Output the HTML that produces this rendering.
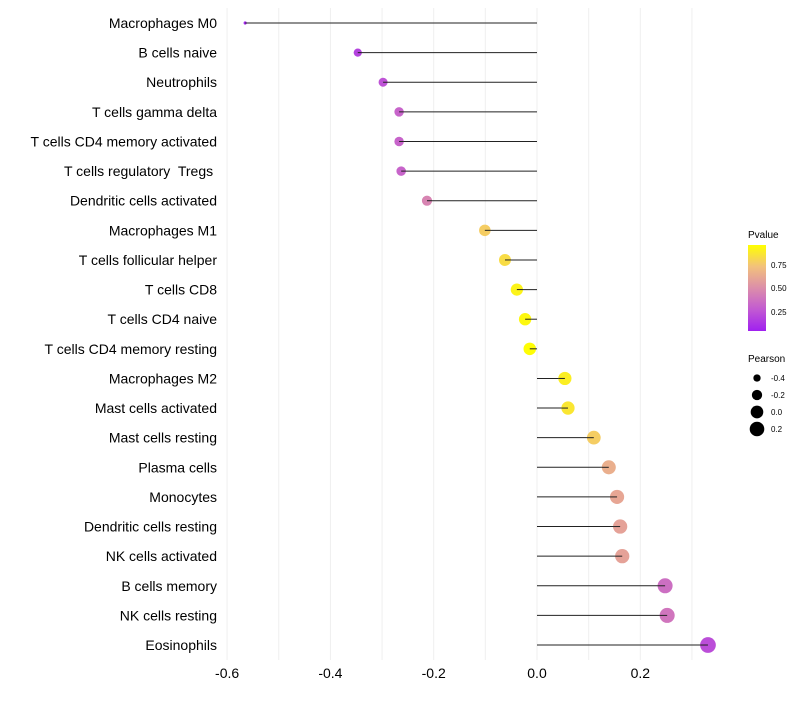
<!DOCTYPE html>
<html><head><meta charset="utf-8"><style>
body{margin:0;background:#fff;}
svg text{font-family:"Liberation Sans",sans-serif;white-space:pre;}
</style></head><body>
<svg id="chart" width="800" height="700" xmlns="http://www.w3.org/2000/svg">
<defs>
<linearGradient id="pg" x1="0" y1="1" x2="0" y2="0">
<stop offset="0" stop-color="#a020f0"/>
<stop offset="0.25" stop-color="#c25ad2"/>
<stop offset="0.5" stop-color="#dc8eaa"/>
<stop offset="0.75" stop-color="#f2c17c"/>
<stop offset="1" stop-color="#ffff00"/>
</linearGradient>
</defs>
<g id="grid"></g>
<g id="marks"></g>
<g id="ylab"></g>
<g id="xlab"></g>
<g>
<text x="748" y="238" font-size="10">Pvalue</text>
<rect x="748" y="245" width="18" height="86" fill="url(#pg)"/>
<text x="771" y="268" font-size="8">0.75</text>
<text x="771" y="291" font-size="8">0.50</text>
<text x="771" y="315" font-size="8">0.25</text>
</g>
<g id="sizeleg">
<text x="748" y="362" font-size="10">Pearson</text>
</g>
</svg>
<script>
const categories=["Macrophages M0","B cells naive","Neutrophils","T cells gamma delta","T cells CD4 memory activated","T cells regulatory  Tregs ","Dendritic cells activated","Macrophages M1","T cells follicular helper","T cells CD8","T cells CD4 naive","T cells CD4 memory resting","Macrophages M2","Mast cells activated","Mast cells resting","Plasma cells","Monocytes","Dendritic cells resting","NK cells activated","B cells memory","NK cells resting","Eosinophils"];
const pearson=[-0.565,-0.347,-0.298,-0.267,-0.267,-0.263,-0.213,-0.101,-0.062,-0.039,-0.023,-0.014,0.054,0.060,0.110,0.139,0.155,0.161,0.165,0.248,0.252,0.331];
const pvalues=[0.02,0.15,0.22,0.3,0.3,0.3,0.45,0.8,0.86,0.95,0.97,0.99,0.93,0.9,0.8,0.66,0.62,0.6,0.6,0.35,0.38,0.2];
const xTicks=[-0.6,-0.4,-0.2,0.0,0.2];
const xTickLabels=["-0.6","-0.4","-0.2","0.0","0.2"];
const gridVals=[-0.6,-0.5,-0.4,-0.3,-0.2,-0.1,0.0,0.1,0.2,0.3];
const sizeLegendVals=[-0.4,-0.2,0.0,0.2];
const sizeLegendLabels=["-0.4","-0.2","0.0","0.2"];

const NS="http://www.w3.org/2000/svg";
const x=v=>537+v*516.5;
const y=i=>23+i*29.62;
const pmin=Math.min(...pearson),pmax=Math.max(...pearson);
const r=v=>Math.sqrt(2.25+Math.max(0,(v-pmin)/(pmax-pmin))*(56.25-2.25))*1.05;
const stops=[[0,[160,32,240]],[0.25,[194,90,210]],[0.5,[220,142,170]],[0.75,[242,193,124]],[1,[255,255,0]]];
function col(p){for(let k=1;k<stops.length;k++){if(p<=stops[k][0]){const a=stops[k-1],b=stops[k],t=(p-a[0])/(b[0]-a[0]);return "rgb("+a[1].map((c,j)=>Math.round(c+(b[1][j]-c)*t)).join(",")+")";}}return "rgb(255,255,0)";}
function mk(tag,attrs,parent){const e=document.createElementNS(NS,tag);for(const k in attrs)e.setAttribute(k,attrs[k]);parent.appendChild(e);return e;}
const grid=document.getElementById("grid"),marks=document.getElementById("marks"),ylab=document.getElementById("ylab"),xlab=document.getElementById("xlab");
gridVals.forEach(v=>{const l=mk("line",{x1:x(v),x2:x(v),y1:8,y2:660,stroke:"#efefef","stroke-width":1},grid);

});
xTicks.forEach((v,i)=>{const t=mk("text",{x:x(v),y:678,"font-size":"14","text-anchor":"middle",fill:"#000"},xlab);t.textContent=xTickLabels[i];

});
categories.forEach((c,i)=>{
const t=mk("text",{x:217,y:y(i)+5,"font-size":"14","text-anchor":"end",fill:"#000"},ylab);t.textContent=c;


const l=mk("line",{x1:x(0),x2:x(pearson[i]),y1:y(i),y2:y(i),stroke:"#222","stroke-width":1},marks);


const d=mk("circle",{cx:x(pearson[i]),cy:y(i),r:r(pearson[i]),fill:col(pvalues[i])},marks);


const l2=mk("line",{x1:x(pearson[i]),x2:x(pearson[i])+(pearson[i]<0?r(pearson[i]):-r(pearson[i])),y1:y(i),y2:y(i),stroke:"#222","stroke-width":1},marks);


});
const sl=document.getElementById("sizeleg");
sizeLegendVals.forEach((v,i)=>{const cy=378+i*17;
const c=mk("circle",{cx:757,cy:cy,r:r(v),fill:"#000"},sl);


const t=mk("text",{x:771,y:cy+3,"font-size":"8"},sl);t.textContent=sizeLegendLabels[i];

});
</script>
</body></html>
